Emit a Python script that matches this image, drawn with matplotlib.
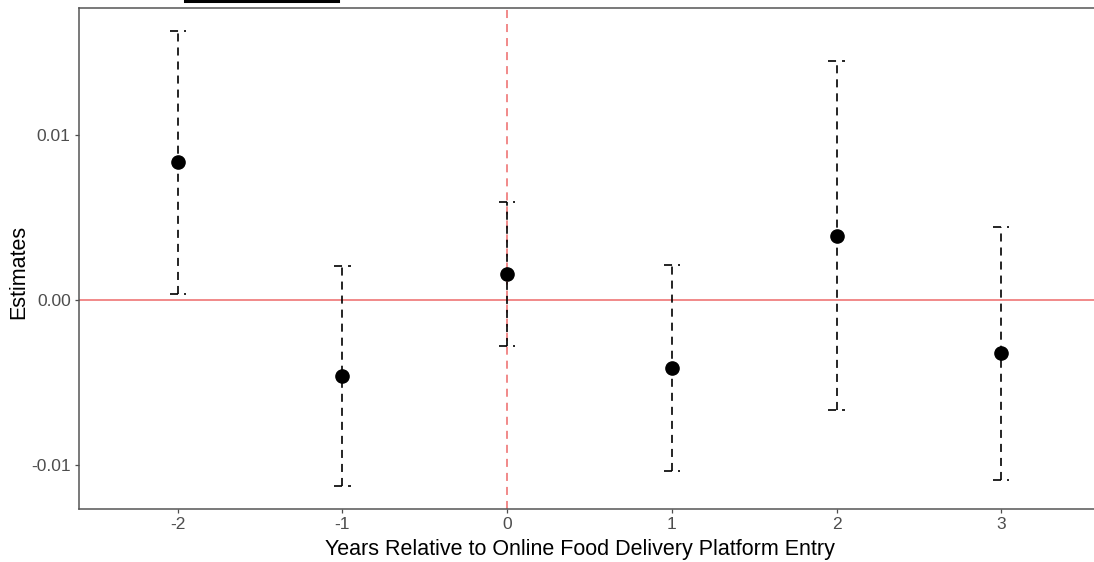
import matplotlib
matplotlib.use("Agg")
import matplotlib.pyplot as plt
from matplotlib.lines import Line2D

plt.rcParams['font.family'] = ['Liberation Sans', 'DejaVu Sans']
plt.rcParams['lines.scale_dashes'] = False

years = [-2, -1, 0, 1, 2, 3]
estimates = [0.00836, -0.00460, 0.00158, -0.00412, 0.00388, -0.00321]
upper = [0.01630, 0.00206, 0.00594, 0.00212, 0.01448, 0.00442]
lower = [0.00036, -0.01127, -0.00279, -0.01036, -0.00667, -0.01091]
yticks = [-0.01, 0.00, 0.01]
ytick_labels = ["-0.01", "0.00", "0.01"]

W, H = 1094, 562
fig = plt.figure(figsize=(W / 100, H / 100), dpi=100)
left, right, top, bottom = 79, 1100, 8, 509
ax = fig.add_axes([left / W, 1 - bottom / H, (right - left) / W, (bottom - top) / H])

red = '#F08080'
dash = (0, (5.8, 4.3))
ax.axhline(0, color=red, lw=1.3, zorder=1)
ax.axvline(0, color=red, lw=1.3, ls=dash, zorder=1)

cap = 0.05
for x, lo, hi in zip(years, lower, upper):
    ax.plot([x, x], [lo, hi], color='black', lw=1.2, ls=dash, zorder=2)
    ax.plot([x - cap, x + cap], [hi, hi], color='black', lw=1.2, ls=dash, zorder=2)
    ax.plot([x - cap, x + cap], [lo, lo], color='black', lw=1.2, ls=dash, zorder=2)
ax.plot(years, estimates, 'o', color='black', ms=9.5, zorder=3)

ax.set_xlim(-2.6, 3.6)
ax.set_ylim(-0.01265, 0.01768)
ax.set_xticks(years)
ax.set_xticklabels([str(y) for y in years])
ax.set_yticks(yticks)
ax.set_yticklabels(ytick_labels)
ax.tick_params(axis='both', colors='#4D4D4D', labelsize=12.5, length=3, width=0.9, pad=3)
for s in ax.spines.values():
    s.set_color('#555555')
    s.set_linewidth(1.1)
ax.set_xlabel("Years Relative to Online Food Delivery Platform Entry", fontsize=15.5, color='black')
ax.set_ylabel("Estimates", fontsize=15.5, color='black')
ax.xaxis.set_label_coords((580 - left) / (right - left), -(549 - bottom) / (bottom - top))
ax.yaxis.set_label_coords(-(left - 19) / (right - left), (bottom - 272) / (bottom - top))
ax.xaxis.label.set_va('center')
ax.yaxis.label.set_va('center')

fig.add_artist(Line2D([185 / W, 338 / W], [1 - 1 / H, 1 - 1 / H], color='black', lw=2.2, transform=fig.transFigure))

fig.savefig("out.png", dpi=100)
